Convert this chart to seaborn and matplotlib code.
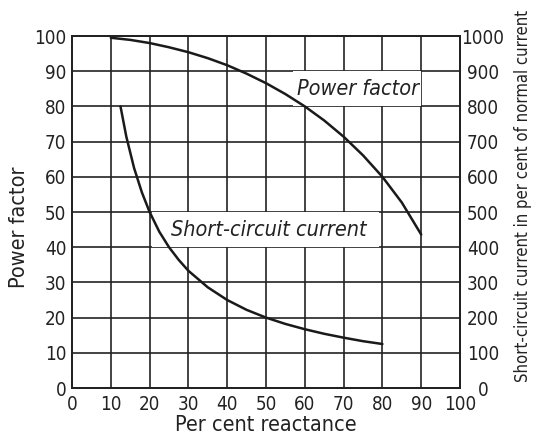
import matplotlib
matplotlib.use("Agg")
import matplotlib.pyplot as plt
import seaborn as sns
import pandas as pd
from matplotlib.patches import Rectangle

# Data
reactance_pf = [10, 15, 20, 25, 30, 35, 40, 45, 50, 55, 60, 65, 70, 75, 80, 85, 90]
power_factor = [99.5, 98.9, 98.0, 96.8, 95.4, 93.7, 91.7, 89.3, 86.6, 83.5, 80.0, 76.0, 71.4, 66.1, 60.0, 52.7, 43.6]

reactance_sc = [12.5, 14, 16, 18, 20, 22.5, 25, 27.5, 30, 35, 40, 45, 50, 55, 60, 65, 70, 75, 80]
short_circuit = [800, 714, 625, 556, 500, 444, 400, 364, 333, 286, 250, 222, 200, 182, 167, 154, 143, 133, 125]

x_ticks = [0, 10, 20, 30, 40, 50, 60, 70, 80, 90, 100]
left_ticks = [0, 10, 20, 30, 40, 50, 60, 70, 80, 90, 100]
right_ticks = [0, 100, 200, 300, 400, 500, 600, 700, 800, 900, 1000]

pf_df = pd.DataFrame({"x": reactance_pf, "y": power_factor})
sc_df = pd.DataFrame({"x": reactance_sc, "y": short_circuit})

sns.set_style("white")
plt.rcParams["font.family"] = ["DejaVu Sans"]
plt.rcParams["font.stretch"] = "condensed"

ink = "#222222"
fig = plt.figure(figsize=(5.39, 4.41), dpi=100)
ax = fig.add_axes([72 / 539, 53 / 441, 388 / 539, 352 / 441])
ax2 = ax.twinx()

ax.set_xlim(0, 100)
ax.set_ylim(0, 100)
ax2.set_ylim(0, 1000)
ax.set_xticks(x_ticks)
ax.set_yticks(left_ticks)
ax2.set_yticks(right_ticks)
ax.grid(True, color=ink, linewidth=1.2)
ax.set_axisbelow(True)

# label backgrounds (white boxes covering grid cells)
ax.add_patch(Rectangle((57, 80), 33, 10, facecolor="white", edgecolor="none", zorder=1.5))
ax.add_patch(Rectangle((20.5, 40), 58.5, 10, facecolor="white", edgecolor="none", zorder=1.5))

sns.lineplot(data=pf_df, x="x", y="y", ax=ax, color="#1a1a1a", linewidth=1.8, zorder=3)
sns.lineplot(data=sc_df, x="x", y="y", ax=ax2, color="#1a1a1a", linewidth=1.8, zorder=3)

ax.text(73.6, 85, "Power factor", style="italic", fontsize=15.5, ha="center", va="center", zorder=4, color=ink)
ax.text(50.8, 45, "Short-circuit current", style="italic", fontsize=15.5, ha="center", va="center", zorder=4, color=ink)

for a in (ax, ax2):
    for s in a.spines.values():
        s.set_color(ink)
        s.set_linewidth(1.4)
    a.tick_params(length=0, labelsize=13.5, colors=ink)

ax.tick_params(axis="y", pad=4)
ax.tick_params(axis="x", pad=5)
ax2.tick_params(axis="y", pad=16.5)
for lab in ax2.get_yticklabels():
    lab.set_horizontalalignment("center")

ax.set_xlabel("Per cent reactance", fontsize=15.5, labelpad=1, color=ink)
ax.set_ylabel("Power factor", fontsize=15.5, labelpad=4, color=ink)
ax2.set_ylabel("Short-circuit current in per cent of normal current", fontsize=12, labelpad=7, color=ink)
ax.yaxis.label.set_y(0.457)
ax2.yaxis.label.set_y(0.545)

fig.savefig("out.png", dpi=100, facecolor="white")
